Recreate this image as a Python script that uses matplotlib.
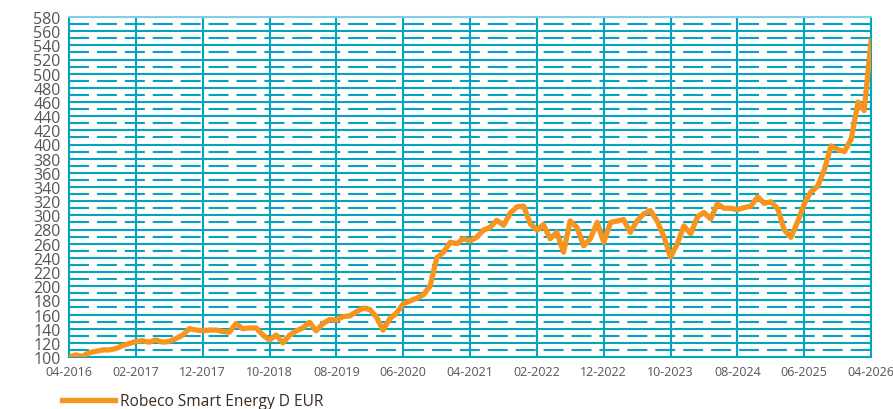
import numpy as np
import pandas as pd
import matplotlib
matplotlib.use('Agg')
import matplotlib.pyplot as plt

# monthly values, 04-2016 .. 04-2026
values = [100, 103, 101, 106, 108, 110, 110, 112, 116, 119,
          122, 123, 121, 124, 121, 122, 126, 131, 140, 138,
          137, 138, 138, 136, 135, 147, 140, 141, 141, 131,
          124, 131, 120, 131, 137, 141, 149, 137, 147, 153,
          152, 157, 158, 164, 169, 167, 156, 138, 154, 162,
          175, 179, 183, 188, 200, 240, 248, 262, 260, 267,
          264, 269, 279, 283, 293, 286, 303, 312, 313, 288,
          279, 287, 267, 276, 248, 292, 283, 257, 267, 290,
          262, 290, 292, 294, 276, 292, 302, 307, 292, 270,
          241, 260, 285, 274, 298, 304, 295, 316, 310, 310,
          308, 311, 313, 326, 317, 319, 309, 280, 269, 290,
          316, 333, 341, 365, 398, 393, 390, 408, 460, 448,
          546]
dates = pd.date_range('2016-04-01', periods=len(values), freq='MS')
series_name = 'Robeco Smart Energy D EUR'
xtick_labels = ['04-2016', '02-2017', '12-2017', '10-2018', '08-2019', '06-2020', '04-2021',
                '02-2022', '12-2022', '10-2023', '08-2024', '06-2025', '04-2026']
yticks = np.arange(100, 581, 20)

teal = '#04A3BE'
orange = '#F7941D'

plt.rcParams['font.family'] = ['Open Sans', 'DejaVu Sans']

fig = plt.figure(figsize=(8.93, 4.10), dpi=100)
ax = fig.add_axes([69/893, 1-358/410, (871-69)/893, (358-18)/410])

ax.plot(dates, values, color=orange, lw=3.8, solid_joinstyle='round', zorder=5, label=series_name)

ax.set_xlim(dates[0], dates[-1])
ax.set_ylim(100, 580)
ax.set_xticks(dates[::10])
ax.set_xticklabels(xtick_labels)
ax.set_yticks(yticks)
ax.set_yticks(yticks[:-1] + 10, minor=True)
ax.tick_params(axis='x', length=0, pad=6, labelsize=9, labelcolor='#555555')
ax.tick_params(axis='y', length=0, pad=6, labelsize=11.5, labelcolor='#555555')
ax.tick_params(axis='y', which='minor', length=0)

ax.grid(axis='y', which='major', color=teal, lw=1.5)
ax.grid(axis='y', which='minor', color=teal, lw=1.5, linestyle=(0, (9.6, 3.8)))
ax.grid(axis='x', which='major', color=teal, lw=1.5)
ax.set_axisbelow(True)
for s in ax.spines.values():
    s.set_color(teal)
    s.set_linewidth(1.5)
ax.spines['top'].set_color('#7FCFDD')

leg = fig.legend(loc='center left', bbox_to_anchor=(62/893, 1-402/410), frameon=False,
                 borderpad=0, borderaxespad=0, handlelength=3.4, fontsize=11.2,
                 handletextpad=0.3)
for t in leg.get_texts():
    t.set_color('#3B2A1E')

fig.savefig('out.png', dpi=100)
